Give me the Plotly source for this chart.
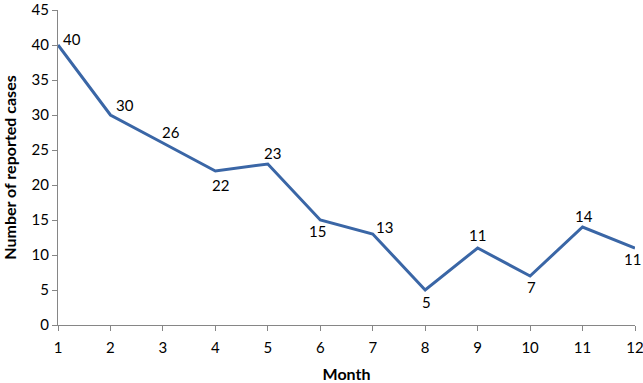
import plotly.graph_objects as go

months = [1, 2, 3, 4, 5, 6, 7, 8, 9, 10, 11, 12]
cases = [40, 30, 26, 22, 23, 15, 13, 5, 11, 7, 14, 11]

# label offsets in pixels (style only)
label_dx = [14, 15, 8, 5, 5, -3, 12, 1, 0, 1, 1, -3]
label_dy = [6, 10, 11, -14, 11, -11, 7, -12, 13, -11, 11, -11]

FONT = "Lato"

fig = go.Figure()
fig.add_trace(go.Scatter(
    x=months, y=cases, mode="lines",
    line=dict(color="#3A66A6", width=3),
    cliponaxis=False, showlegend=False, hoverinfo="x+y",
))
for m, c, dx, dy in zip(months, cases, label_dx, label_dy):
    fig.add_annotation(x=m, y=c, text=str(c), showarrow=False,
                       xshift=dx, yshift=dy, xanchor="center", yanchor="middle",
                       font=dict(family=FONT, size=15, color="#000000"))

axis_common = dict(
    showgrid=False, zeroline=False, showline=True, linecolor="#868686", linewidth=1,
    ticks="outside", ticklen=5, tickcolor="#868686", automargin=False,
    ticklabeloverflow="allow",
    tickfont=dict(family=FONT, size=15, color="#000000"),
)
fig.update_xaxes(range=[1, 12], tickvals=months, ticklabelstandoff=4,
                 title=dict(text="<b>Month</b>",
                            font=dict(family=FONT, size=16, color="#000000"), standoff=19),
                 **axis_common)
fig.update_yaxes(range=[0, 45], tickvals=list(range(0, 46, 5)),
                 title=dict(text="<b>Number of reported cases</b>",
                            font=dict(family=FONT, size=16, color="#000000"), standoff=11),
                 **axis_common)
fig.update_layout(
    width=643, height=383,
    margin=dict(l=58, r=8, t=10, b=58),
    plot_bgcolor="white", paper_bgcolor="white",
)
fig.write_html("out.html", config={"displayModeBar": False},
               post_script="document.body.style.margin='0';document.body.style.padding='0';")
